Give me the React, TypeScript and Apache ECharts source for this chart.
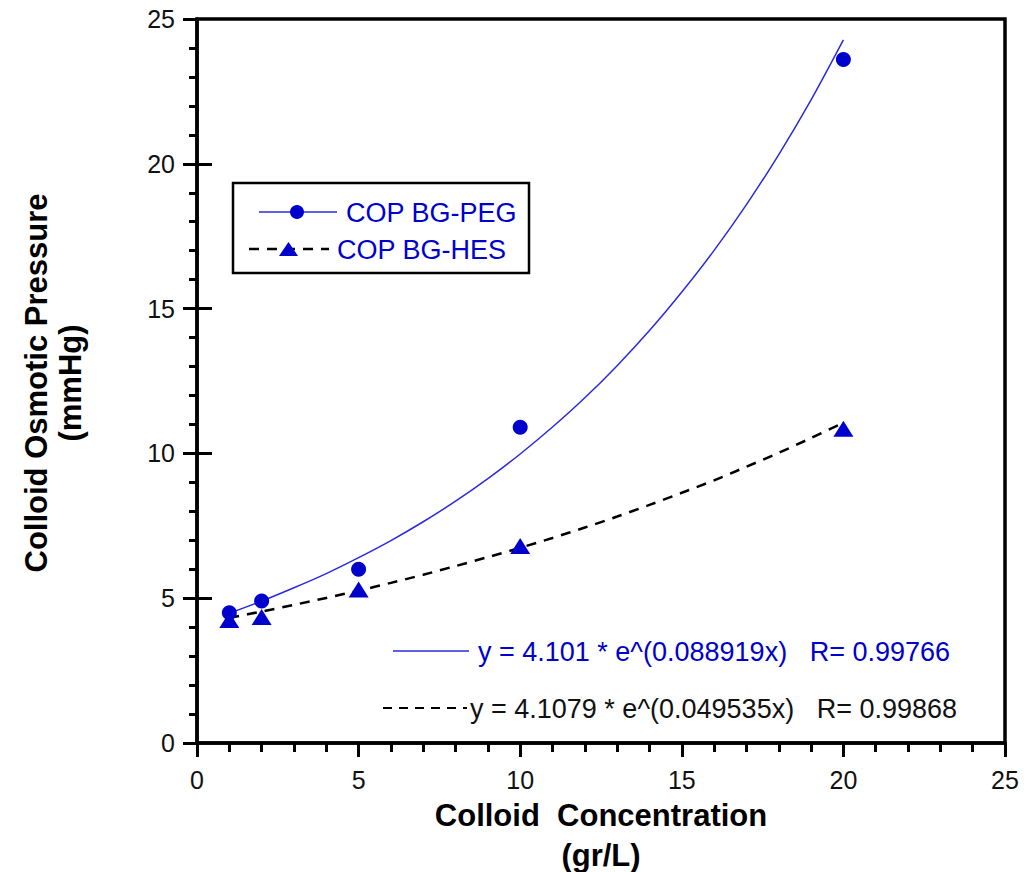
import React, { useEffect, useRef } from "react";
import * as echarts from "echarts";

// Measured data points
const concentration = [1, 2, 5, 10, 20];
const copPEG = [4.5, 4.9, 6.0, 10.9, 23.6];
const copHES = [4.25, 4.35, 5.3, 6.8, 10.85];

// Fit curves as drawn in the picture (sampled at each gr/L)
const fitX = [1, 2, 3, 4, 5, 6, 7, 8, 9, 10, 11, 12, 13, 14, 15, 16, 17, 18, 19, 20];
const fitPEG = [
  4.48, 4.9, 5.36, 5.85, 6.4, 6.99, 7.64, 8.35, 9.13, 9.98,
  10.91, 11.92, 13.03, 14.24, 15.57, 17.01, 18.59, 20.32, 22.21, 24.28,
];
const fitHES = [
  4.32, 4.54, 4.77, 5.01, 5.26, 5.53, 5.81, 6.11, 6.42, 6.74,
  7.08, 7.44, 7.82, 8.22, 8.64, 9.07, 9.54, 10.02, 10.53, 11.06,
];

const seriesNames = ["COP BG-PEG", "COP BG-HES"];
const equations = [
  "y = 4.101 * e^(0.088919x)   R= 0.99766",
  "y = 4.1079 * e^(0.049535x)   R= 0.99868",
];
const xTitle = "Colloid  Concentration\n(gr/L)";
const yTitle = "Colloid Osmotic Pressure\n(mmHg)";

const BLUE = "#0000cc";
const LINE_BLUE = "#2a2ae0";
const FONT = "Liberation Sans, Arial, sans-serif";

export default function App() {
  const ref = useRef<HTMLDivElement>(null);

  useEffect(() => {
    if (!ref.current) return;
    const chart = echarts.init(ref.current, null, { renderer: "svg" });
    const zip = (xs: number[], ys: number[]) => xs.map((x, i) => [x, ys[i]]);

    chart.setOption({
      animation: false,
      backgroundColor: "#fff",
      textStyle: { fontFamily: FONT },
      grid: {
        left: 197,
        top: 19,
        right: 19,
        bottom: 129,
        show: true,
        borderColor: "#000",
        borderWidth: 3.5,
        backgroundColor: "transparent",
      },
      xAxis: {
        type: "value",
        min: 0,
        max: 25,
        interval: 5,
        axisLine: { lineStyle: { color: "#000", width: 3.5 } },
        axisTick: { inside: false, length: 14, lineStyle: { color: "#000", width: 3 } },
        minorTick: { show: true, splitNumber: 5, length: 9, lineStyle: { color: "#000", width: 3 } },
        splitLine: { show: false },
        axisLabel: { fontSize: 25, color: "#111", margin: 24, fontFamily: FONT },
      },
      yAxis: [
        {
          type: "value",
          min: 0,
          max: 25,
          interval: 5,
          axisLine: { lineStyle: { color: "#000", width: 3.5 } },
          axisTick: { inside: false, length: 14, lineStyle: { color: "#000", width: 3 } },
          minorTick: { show: true, splitNumber: 5, length: 8, lineStyle: { color: "#000", width: 3 } },
          splitLine: { show: false },
          axisLabel: { fontSize: 25, color: "#111", margin: 22, fontFamily: FONT },
        },
        {
          type: "value",
          min: 0,
          max: 25,
          interval: 5,
          position: "left",
          offset: 0,
          axisLine: { show: false },
          axisTick: { show: true, inside: true, length: 15, customValues: [5, 10, 15, 20], lineStyle: { color: "#000", width: 3 } },
          minorTick: { show: false },
          splitLine: { show: false },
          axisLabel: { show: false },
        },
      ],
      series: [
        {
          type: "line",
          data: zip(fitX, fitPEG),
          smooth: 0.3,
          showSymbol: false,
          symbol: "none",
          lineStyle: { color: LINE_BLUE, width: 1.5 },
          silent: true,
          z: 2,
        },
        {
          type: "line",
          data: zip(fitX, fitHES),
          smooth: 0.3,
          showSymbol: false,
          symbol: "none",
          lineStyle: { color: "#000", width: 2.5, type: [10, 8] },
          silent: true,
          z: 2,
        },
        {
          name: seriesNames[0],
          type: "scatter",
          data: zip(concentration, copPEG),
          symbol: "circle",
          symbolSize: 15,
          itemStyle: { color: BLUE, opacity: 1 },
          silent: true,
          z: 3,
        },
        {
          name: seriesNames[1],
          type: "scatter",
          data: zip(concentration, copHES),
          symbol: "triangle",
          symbolSize: [20, 16],
          itemStyle: { color: BLUE, opacity: 1 },
          silent: true,
          z: 4,
        },
      ],
      graphic: [
        // Legend box
        {
          type: "rect",
          shape: { x: 233, y: 183, width: 296, height: 90 },
          style: { fill: "#fff", stroke: "#000", lineWidth: 2.5 },
          z: 10,
        },
        {
          type: "line",
          shape: { x1: 259, y1: 212, x2: 337, y2: 212 },
          style: { stroke: LINE_BLUE, lineWidth: 1.5 },
          z: 11,
        },
        {
          type: "circle",
          shape: { cx: 297, cy: 212, r: 7 },
          style: { fill: BLUE },
          z: 12,
        },
        {
          type: "text",
          x: 346,
          y: 213,
          style: { text: seriesNames[0], fill: BLUE, font: `27px ${FONT}`, textVerticalAlign: "middle" },
          z: 12,
        },
        {
          type: "line",
          shape: { x1: 249, y1: 249, x2: 329, y2: 249 },
          style: { stroke: "#000", lineWidth: 2.5, lineDash: [10, 8] },
          z: 11,
        },
        {
          type: "polygon",
          shape: { points: [[279, 256], [298, 256], [288.5, 242]] },
          style: { fill: BLUE },
          z: 12,
        },
        {
          type: "text",
          x: 337,
          y: 250,
          style: { text: seriesNames[1], fill: BLUE, font: `27px ${FONT}`, textVerticalAlign: "middle" },
          z: 12,
        },
        // Equation annotations
        {
          type: "line",
          shape: { x1: 393, y1: 651, x2: 469, y2: 651 },
          style: { stroke: LINE_BLUE, lineWidth: 1.5 },
          z: 11,
        },
        {
          type: "text",
          x: 478,
          y: 652,
          style: { text: equations[0], fill: BLUE, font: `27px ${FONT}`, textVerticalAlign: "middle" },
          z: 12,
        },
        {
          type: "line",
          shape: { x1: 383, y1: 708, x2: 467, y2: 708 },
          style: { stroke: "#000", lineWidth: 2, lineDash: [9, 7] },
          z: 11,
        },
        {
          type: "text",
          x: 470,
          y: 709,
          style: { text: equations[1], fill: "#111", font: `27px ${FONT}`, textVerticalAlign: "middle" },
          z: 12,
        },
        // Axis titles
        {
          type: "text",
          x: 601,
          y: 835,
          style: {
            text: xTitle,
            fill: "#000",
            font: `bold 31px ${FONT}`,
            lineHeight: 40,
            textAlign: "center",
            textVerticalAlign: "middle",
          },
        },
        {
          type: "text",
          x: 53,
          y: 383,
          rotation: Math.PI / 2,
          style: {
            text: yTitle,
            fill: "#000",
            font: `bold 31px ${FONT}`,
            lineHeight: 34,
            textAlign: "center",
            textVerticalAlign: "middle",
          },
        },
      ],
    });

    return () => chart.dispose();
  }, []);

  return (
    <div
      ref={ref}
      style={{ position: "absolute", left: 0, top: 0, width: 1024, height: 872 }}
    />
  );
}
